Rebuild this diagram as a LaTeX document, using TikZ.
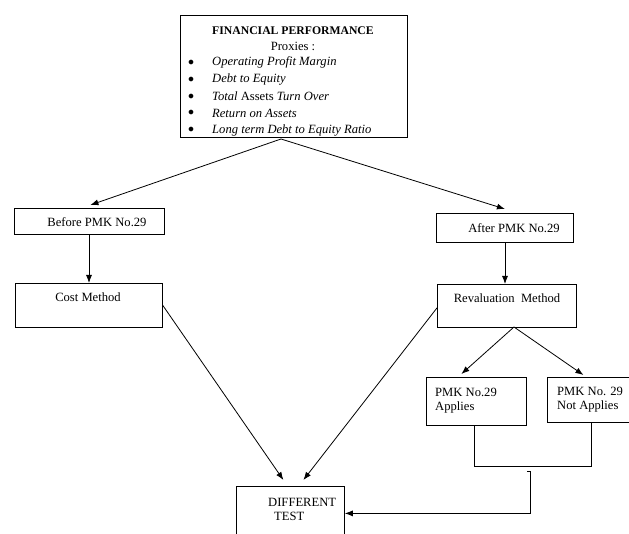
\documentclass[tikz,border=0pt]{standalone}
\usepackage{fontspec}
\setmainfont{Liberation Serif}
\usetikzlibrary{calc,arrows.meta}

\tikzset{
  box/.style={draw, line width=0.8pt, inner sep=0pt, anchor=north west},
  lbl/.style={inner sep=0pt, font=\fontsize{12.6}{14}\selectfont},
  ttl/.style={inner sep=0pt, font=\bfseries\fontsize{11.7}{13}\selectfont},
  arr/.style={-{Latex[length=8pt,width=6pt]}, line width=0.8pt},
  ln/.style={line width=0.8pt}
}

\begin{document}
\begin{tikzpicture}[x=1pt,y=-1pt]
  \useasboundingbox (0,0) rectangle (629,534);
  \clip (0,0) rectangle (629,534);
  % boxes
  \node[box, minimum width=227pt, minimum height=122pt] (fin) at (180,15) {};
  \node[box, minimum width=150pt, minimum height=26pt] (before) at (14,208) {};
  \node[box, minimum width=147pt, minimum height=44pt] (cost) at (15,283) {};
  \node[box, minimum width=137pt, minimum height=29pt] (after) at (436,213) {};
  \node[box, minimum width=139pt, minimum height=43pt] (reval) at (437,284) {};
  \node[box, minimum width=100pt, minimum height=48pt] (app) at (426,377) {};
  \node[box, minimum width=90pt, minimum height=45pt] (napp) at (547,377) {};
  \node[box, minimum width=108pt, minimum height=54pt] (diff) at (236,486) {};
  % texts
  \node[ttl] (fintitle) at (293,31) {FINANCIAL PERFORMANCE};
  \node[lbl] (proxies) at (293,46) {Proxies :};
  \foreach \txt [count=\i] in {\textit{Operating Profit Margin},
      \textit{Debt to Equity},
      \textit{Total} Assets \textit{Turn Over},
      \textit{Return on Assets},
      \textit{Long term Debt to Equity Ratio}}
  {
    \node[lbl] (bul\i) at (191,{46+16.8*\i}) {$\bullet$};
    \node[lbl, anchor=west] (item\i) at (212,{46+16.8*\i}) {\txt};
  }
  \node[lbl] (beforetxt) at (97,222) {Before PMK No.29};
  \node[lbl] (costtxt) at (88,297) {Cost Method};
  \node[lbl] (aftertxt) at (514,228) {After PMK No.29};
  \node[lbl] (revaltxt) at (507,298) {Revaluation\ \ Method};
  \node[lbl, anchor=west, align=left] (apptxt) at (435,401) {PMK No.29\\Applies};
  \node[lbl, anchor=west, align=left] (napptxt) at (557,400) {PMK No. 29\\Not Applies};
  \node[lbl, anchor=west, align=left] (difftxt) at (268,509) {DIFFERENT\\\hspace*{6pt}TEST};
  % connectors
  \coordinate (apex) at (281,139);
  \coordinate (fork) at (514,327);
  \coordinate (join) at (527,471);
  \draw[arr] (apex) -- ($(before.north)+(1,-3)$);
  \draw[arr] (apex) -- ($(after.north)+(0,-4)$);
  \draw[arr] (before.south -| 89,0) -- (cost.north -| 89,0);
  \draw[arr] (after.south -| 505,0) -- (reval.north -| 505,0);
  \draw[arr] (cost.east) -- ($(diff.north)+(-7,-6)$);
  \draw[arr] ($(reval.west)+(0,2)$) -- ($(diff.north)+(13,-6)$);
  \draw[arr] (fork) -- ($(app.north)+(-15,-3)$);
  \draw[arr] (fork) -- ($(napp.north)+(-9,-2)$);
  \draw[ln] ($(app.south)+(-2,0)$) -- ++(0,41) -| ($(napp.south)+(-1,0)$);
  \draw[arr] (join) -- ++(3,0) |- (diff.east);
\end{tikzpicture}
\end{document}
